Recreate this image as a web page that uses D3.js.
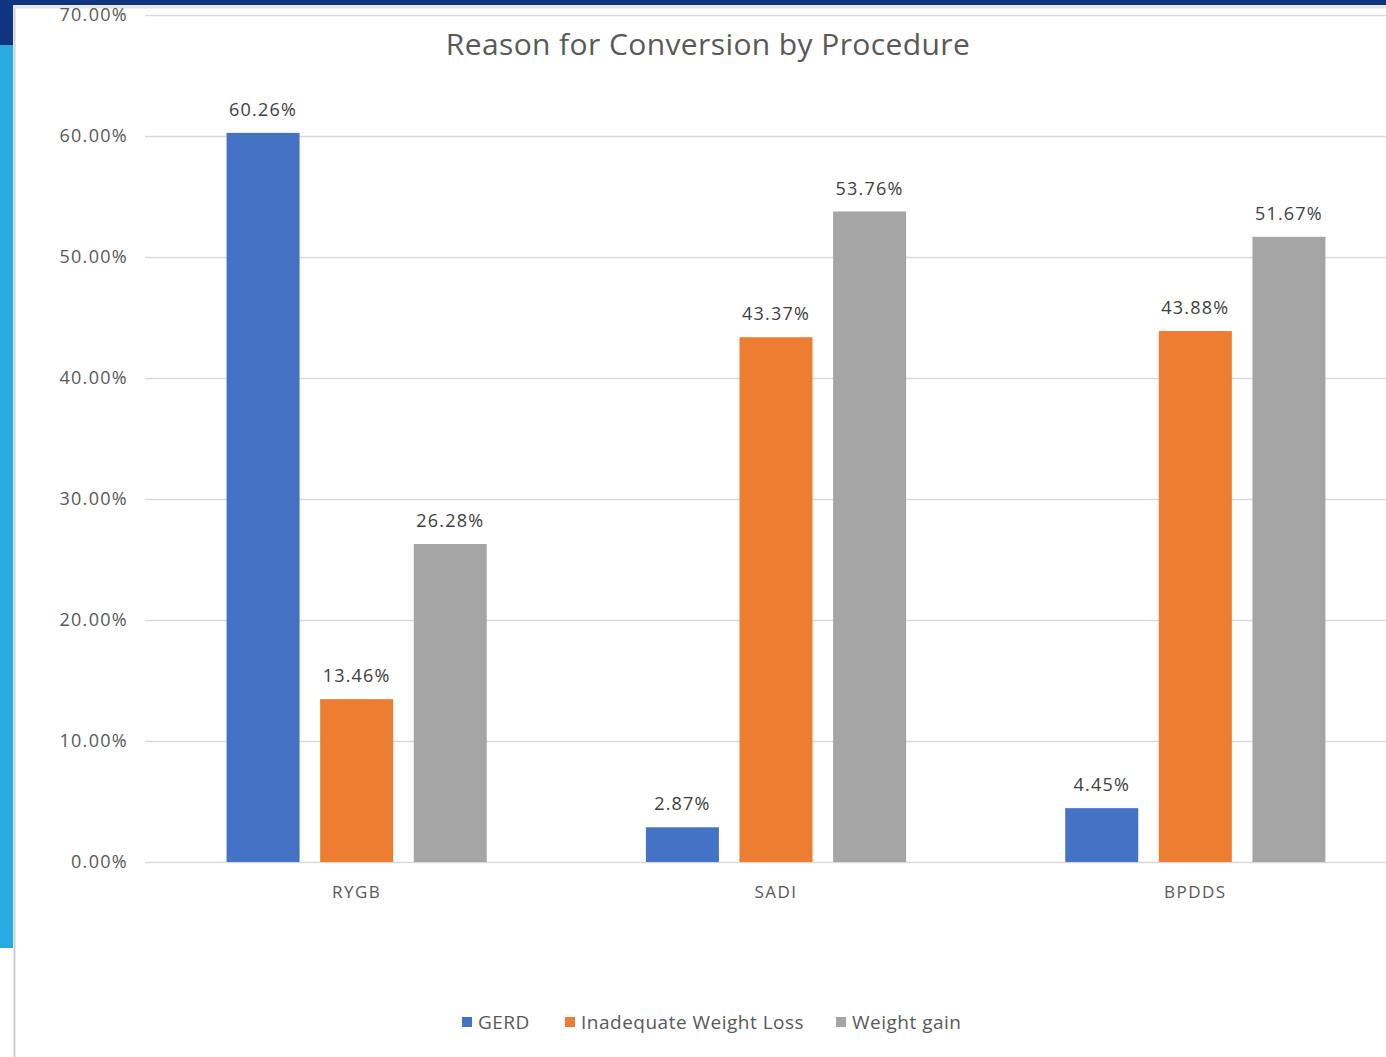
<!DOCTYPE html>
<html><head><meta charset="utf-8">
<script src="https://cdn.jsdelivr.net/npm/d3@7"></script>
<style>body{margin:0;background:#fff;overflow:hidden}text{font-family:"Open Sans",sans-serif}</style>
</head><body><svg id="c" width="1386" height="1057"></svg>
<script>
const categories = ["RYGB", "SADI", "BPDDS"];
const series = ["GERD", "Inadequate Weight Loss", "Weight gain"];
const gerd = [60.26, 2.87, 4.45];
const inadequate = [13.46, 43.37, 43.88];
const weightGain = [26.28, 53.76, 51.67];
const yTicks = [0, 10, 20, 30, 40, 50, 60, 70];
const colors = ["#4472c4", "#ed7d31", "#a5a5a5"];
const values = [gerd, inadequate, weightGain];

const svg = d3.select("#c");
// frame decorations
svg.append("rect").attr("x",0).attr("y",0).attr("width",1386).attr("height",5).attr("fill","#0f3580");
svg.append("rect").attr("x",0).attr("y",0).attr("width",13).attr("height",45).attr("fill","#0f3580");
svg.append("rect").attr("x",0).attr("y",45).attr("width",13).attr("height",903).attr("fill","#29abe2");
svg.append("line").attr("x1",14.5).attr("x2",14.5).attr("y1",5).attr("y2",1057).attr("stroke","#d0d0d0").attr("stroke-width",2);
svg.append("line").attr("x1",14).attr("x2",1386).attr("y1",7).attr("y2",7).attr("stroke","#e6e6e6").attr("stroke-width",3);

const y = d3.scaleLinear().domain([0,70]).range([862,15]);
const x0 = d3.scaleBand().domain(categories).range([147,1405]).padding(0);
const x1 = d3.scaleBand().domain(series).range([0,x0.bandwidth()]).paddingInner(0.22).paddingOuter(0.85);

// gridlines
svg.append("g").selectAll("line").data(yTicks).join("line")
  .attr("x1",145).attr("x2",1386).attr("y1",d=>y(d)+0.5).attr("y2",d=>y(d)+0.5)
  .attr("stroke","#d9d9d9").attr("stroke-width",1.5);

// y labels
svg.append("g").selectAll("text").data(yTicks).join("text")
  .attr("x",128).attr("y",d=>y(d)+6).attr("text-anchor","end")
  .attr("font-size",18).attr("letter-spacing",1.3).attr("fill","#595959").text(d=>d.toFixed(2)+"%");

// bars
const g = svg.append("g");
categories.forEach((c,ci)=>{
  series.forEach((s,si)=>{
    const v = values[si][ci];
    const bx = x0(c)+x1(s);
    g.append("rect").attr("x",bx).attr("y",y(v)).attr("width",x1.bandwidth()).attr("height",y(0)-y(v)).attr("fill",colors[si]);
    g.append("text").attr("x",bx+x1.bandwidth()/2).attr("y",y(v)-17).attr("text-anchor","middle")
      .attr("font-size",18).attr("letter-spacing",1.2).attr("fill","#404040").text(v.toFixed(2)+"%");
  });
});

// category labels
svg.append("g").selectAll("text").data(categories).join("text")
  .attr("x",d=>x0(d)+x0.bandwidth()/2).attr("y",898).attr("text-anchor","middle")
  .attr("font-size",17).attr("letter-spacing",1.5).attr("fill","#595959").text(d=>d);

// title
svg.append("text").attr("x",708).attr("y",55).attr("text-anchor","middle")
  .attr("font-size",30).attr("letter-spacing",0.4).attr("fill","#595959").text("Reason for Conversion by Procedure");

// legend
const legX = [462, 565, 836];
const lg = svg.append("g");
series.forEach((s,i)=>{
  lg.append("rect").attr("x",legX[i]).attr("y",1017).attr("width",10).attr("height",10).attr("fill",colors[i]);
  lg.append("text").attr("x",legX[i]+16).attr("y",1029).attr("font-size",19).attr("letter-spacing",0.5).attr("fill","#595959").text(s);
});
</script></body></html>
